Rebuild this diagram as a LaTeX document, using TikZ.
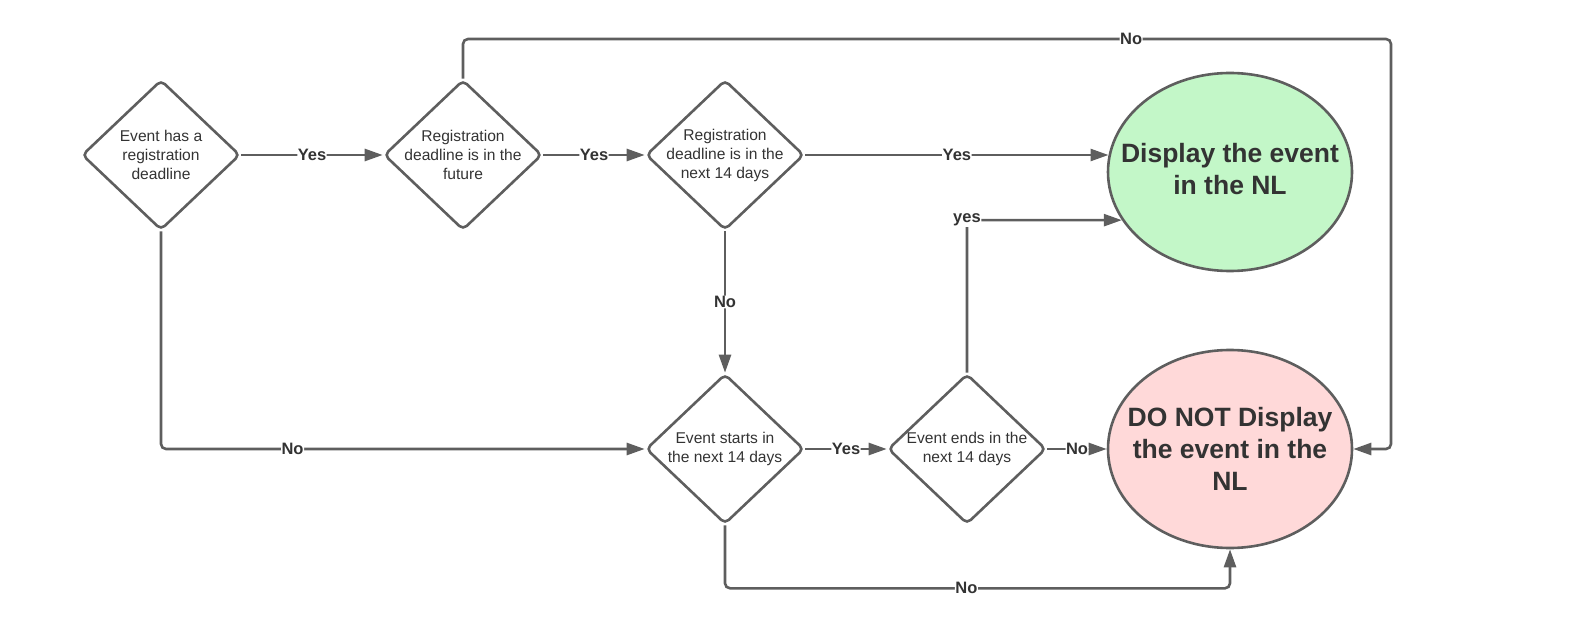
\documentclass[tikz,border=0pt]{standalone}
\usepackage{fontspec}
\setmainfont{Liberation Sans}
\usetikzlibrary{shapes.geometric,arrows.meta}
\definecolor{linegray}{HTML}{5E5E5E}
\definecolor{textgray}{HTML}{333333}
\definecolor{yesgreen}{HTML}{C3F7C8}
\definecolor{nored}{HTML}{FFD9D9}
\begin{document}
\begin{tikzpicture}[x=1pt, y=-1pt,
  decision/.style={diamond, draw=linegray, line width=2.6pt, rounded corners=5pt,
    minimum width=158pt, minimum height=150pt, inner sep=0pt},
  dtext/.style={text=textgray, font=\fontsize{15.6}{19}\selectfont, align=center, inner sep=0pt},
  outcome/.style={ellipse, draw=linegray, line width=2.6pt,
    minimum width=244pt, minimum height=198pt, inner sep=0pt},
  otext/.style={text=textgray, font=\fontsize{26.5}{32}\selectfont\bfseries, align=center, inner sep=0pt},
  flow/.style={draw=linegray, line width=2.6pt, rounded corners=5pt, -{Triangle[length=18pt,width=12pt]}},
  lab/.style={fill=white, text=textgray, font=\fontsize{16.5}{18}\selectfont\bfseries, inner sep=0.5pt}]
  \useasboundingbox (0,0) rectangle (1574,644);
  % decisions
  \node [decision] (hasdl) at (161,155) {};
  \node [dtext] (hasdl text) at (hasdl) {Event has a\\registration\\deadline};
  \node [decision] (future) at (463,155) {};
  \node [dtext] (future text) at (future) {Registration\\deadline is in the\\future};
  \node [decision] (soon) at (725,155) {};
  \node [dtext] (soon text) at (soon) {Registration\\deadline is in the\\next 14 days};
  \node [decision] (starts) at (725,449) {};
  \node [dtext] (starts text) at (starts) {Event starts in\\the next 14 days};
  \node [decision] (ends) at (967,449) {};
  \node [dtext] (ends text) at (ends) {Event ends in the\\next 14 days};
  % outcomes
  \node [outcome, fill=yesgreen] (display) at (1230,172) {};
  \node [otext] (display text) at (1230,169) {Display the event\\in the NL};
  \node [outcome, fill=nored] (hide) at (1230,449) {};
  \node [otext] (hide text) at (hide) {DO NOT Display\\the event in the\\NL};
  \coordinate (topr) at (1391,39);
  % connectors
  \draw [flow] (hasdl.east) -- node [lab] {Yes} (future.west);
  \draw [flow] (future.east) -- node [lab] {Yes} (soon.west);
  \draw [flow] (soon.east) -- node [lab] {Yes} (soon.east -| display.172);
  \draw [flow] (soon.south) -- node [lab] {No} (starts.north);
  \draw [flow] (starts.east) -- node [lab] {Yes} (ends.west);
  \draw [flow] (ends.east) -- node [lab] {No} (hide.west);
  \draw [flow] (ends.north) |- node [lab, pos=0.5] {yes} (display.204);
  \draw [flow] (hasdl.south) |- node [lab, pos=0.636] {No} (starts.west);
  \draw [flow] (future.north) -- (future.north |- topr) -- node [lab, pos=0.72] {No} (topr) |- (hide.east);
  \draw [flow] (starts.south) -- ++(0,63) -| node [lab, pos=0.239] {No} (hide.south);
\end{tikzpicture}
\end{document}
